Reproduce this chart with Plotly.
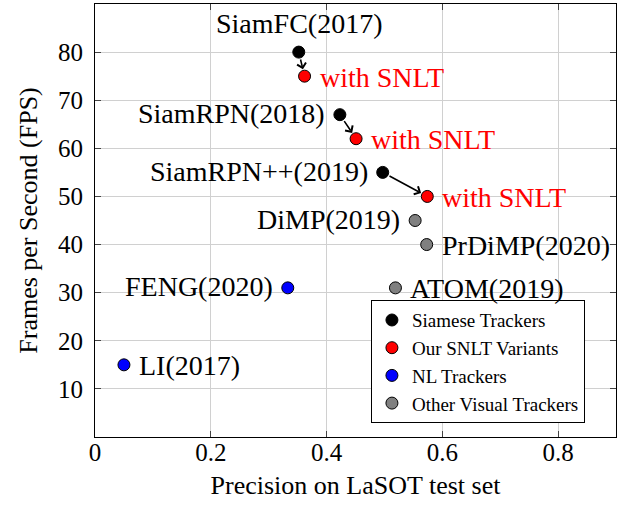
import plotly.graph_objects as go

# ---------------- data ----------------
names = ["SiamFC(2017)", "SiamRPN(2018)", "SiamRPN++(2019)",
         "SNLT-1", "SNLT-2", "SNLT-3",
         "FENG(2020)", "LI(2017)",
         "DiMP(2019)", "PrDiMP(2020)", "ATOM(2019)"]
precision = [0.352, 0.423, 0.497,
             0.362, 0.451, 0.574,
             0.333, 0.050,
             0.553, 0.573, 0.519]
fps = [80, 67, 55,
       75, 62, 50,
       31, 15,
       45, 40, 31]
groups = ["Siamese Trackers"] * 3 + ["Our SNLT Variants"] * 3 + \
         ["NL Trackers"] * 2 + ["Other Visual Trackers"] * 3
group_order = ["Siamese Trackers", "Our SNLT Variants", "NL Trackers", "Other Visual Trackers"]
# arrows: base tracker -> SNLT variant
arrow_pairs = [("SiamFC(2017)", "SNLT-1"), ("SiamRPN(2018)", "SNLT-2"), ("SiamRPN++(2019)", "SNLT-3")]
x_ticks = [0, 0.2, 0.4, 0.6, 0.8]
x_tick_text = ["0", "0.2", "0.4", "0.6", "0.8"]
y_ticks = [10, 20, 30, 40, 50, 60, 70, 80]
y_tick_text = ["10", "20", "30", "40", "50", "60", "70", "80"]

# ---------------- style ----------------
colors = {"Siamese Trackers": "black", "Our SNLT Variants": "red",
          "NL Trackers": "blue", "Other Visual Trackers": "gray"}
label_text = {n: n for n in names}
label_text.update({"SNLT-1": "with SNLT", "SNLT-2": "with SNLT", "SNLT-3": "with SNLT"})
label_side = {"SiamFC(2017)": "top", "SiamRPN(2018)": "left", "SiamRPN++(2019)": "left",
              "SNLT-1": "right", "SNLT-2": "right", "SNLT-3": "right",
              "FENG(2020)": "left", "LI(2017)": "right",
              "DiMP(2019)": "left", "PrDiMP(2020)": "right", "ATOM(2019)": "right"}
FONT = "'Liberation Serif', 'DejaVu Serif', serif"

fig = go.Figure()
for g in group_order:
    xs = [precision[i] for i in range(len(names)) if groups[i] == g]
    ys = [fps[i] for i in range(len(names)) if groups[i] == g]
    fig.add_trace(go.Scatter(
        x=xs, y=ys, mode="markers", name=g,
        marker=dict(size=12, color=colors[g], line=dict(color="black", width=1)),
    ))

annotations = []
idx = {n: i for i, n in enumerate(names)}
for a, b in arrow_pairs:
    ia, ib = idx[a], idx[b]
    annotations.append(dict(
        x=precision[ib], y=fps[ib], ax=precision[ia], ay=fps[ia],
        xref="x", yref="y", axref="x", ayref="y", text="",
        showarrow=True, arrowhead=4, arrowsize=1.1, arrowwidth=1.6,
        arrowcolor="black", standoff=7, startstandoff=6,
    ))

for i, n in enumerate(names):
    side = label_side[n]
    col = "red" if groups[i] == "Our SNLT Variants" else "black"
    ann = dict(x=precision[i], y=fps[i], xref="x", yref="y", text=label_text[n],
               showarrow=False, font=dict(family=FONT, size=28, color=col))
    if side == "top":
        ann.update(xanchor="center", yanchor="middle", yshift=29)
    elif side == "left":
        ann.update(xanchor="right", yanchor="middle", xshift=-13, yshift=1)
    else:
        ann.update(xanchor="left", yanchor="middle", xshift=13, yshift=-1)
    annotations.append(ann)

axis_common = dict(
    showline=True, linecolor="black", linewidth=1, mirror="ticks",
    ticks="inside", ticklen=6, tickcolor="#444", tickwidth=1,
    showgrid=True, gridcolor="#d0d0d0", gridwidth=1, zeroline=False,
    tickfont=dict(family=FONT, size=25, color="black"),
    automargin=False,
)

fig.update_layout(
    width=623, height=506,
    margin=dict(l=95, r=7, t=4, b=69),
    paper_bgcolor="white", plot_bgcolor="white",
    font=dict(family=FONT, color="black"),
    xaxis=dict(range=[0, 0.9], tickvals=x_ticks, ticktext=x_tick_text,
               title=dict(text="Precision on LaSOT test set", font=dict(family=FONT, size=26), standoff=10),
               ticklabelstandoff=-7, **axis_common),
    yaxis=dict(range=[0, 90], tickvals=y_ticks, ticktext=y_tick_text,
               title=dict(text="Frames per Second (FPS)", font=dict(family=FONT, size=26), standoff=12),
               ticklabelstandoff=6, **axis_common),
    legend=dict(x=0.735, y=0.032, xanchor="center", yanchor="bottom",
                bordercolor="black", borderwidth=1, bgcolor="white",
                font=dict(family=FONT, size=19, color="black"),
                itemwidth=30),
    annotations=annotations,
    showlegend=True,
)

fig.write_html("out.html", config={"displayModeBar": False},
               post_script="document.body.style.margin='0';")
